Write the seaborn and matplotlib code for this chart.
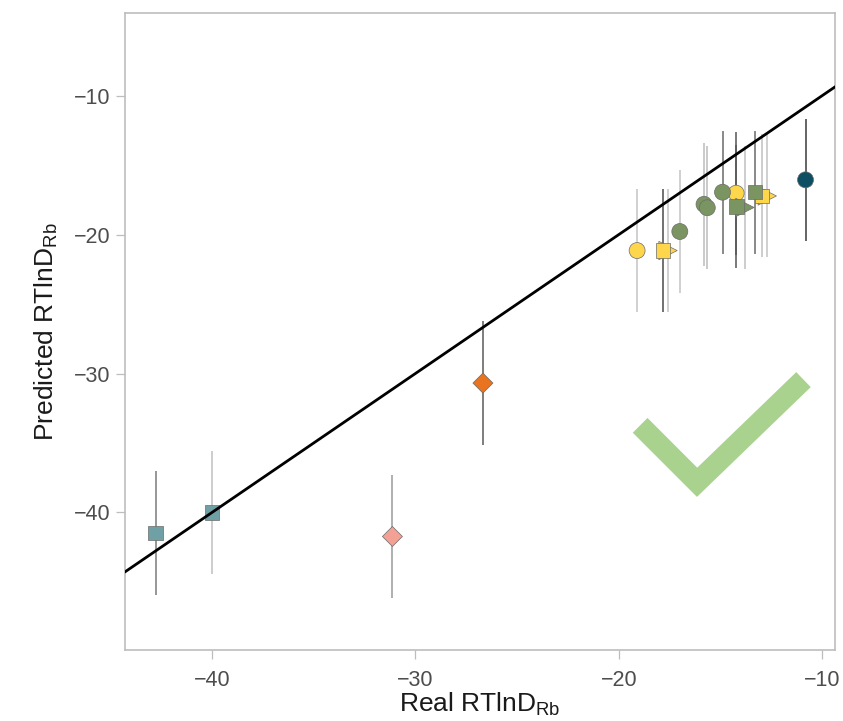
import numpy as np
import pandas as pd
import matplotlib
matplotlib.use("Agg")
import matplotlib.pyplot as plt
import seaborn as sns

# Measured vs. predicted RT ln D(Rb), with prediction intervals
real_rtlnd = [-17.58, -12.70, -17.82, -12.95, -19.10, -14.23,
              -13.80, -17.00, -15.81, -15.65, -14.90, -14.22, -13.31,
              -42.77, -40.00, -31.13, -26.68, -10.82]
pred_rtlnd = [-21.15, -17.22, -21.15, -17.22, -21.15, -17.02,
              -18.05, -19.78, -17.82, -18.07, -16.95, -17.99, -16.95,
              -41.46, -40.00, -41.73, -30.69, -16.06]
pred_err = [4.43, 4.43, 4.43, 4.43, 4.43, 4.43,
            4.43, 4.40, 4.43, 4.43, 4.43, 4.43, 4.43,
            4.45, 4.43, 4.45, 4.44, 4.38]
group = ["yellow", "yellow", "yellow", "yellow", "yellow", "yellow",
         "green", "green", "green", "green", "green", "green", "green",
         "teal", "teal", "salmon", "orange", "navy"]
shape = ["triangle", "triangle", "square", "square", "circle", "circle",
         "triangle", "circle", "circle", "circle", "circle", "square", "square",
         "square", "square", "diamond", "diamond", "circle"]
bar_tone = ["#c4c4c4", "#c4c4c4", "#4a4a4a", "#c0c0c0", "#c4c4c4", "#555555",
            "#c0c0c0", "#c4c4c4", "#bcbcbc", "#bcbcbc", "#6a6a6a", "#555555", "#6a6a6a",
            "#7a7a7a", "#c0c0c0", "#9a9a9a", "#5a5a5a", "#3a3a3a"]

# tick mark decoration
check_x = [-18.95, -16.15, -10.92]
check_y = [-33.73, -37.83, -30.44]

ticks = [-40, -30, -20, -10]

df = pd.DataFrame({"real": real_rtlnd, "pred": pred_rtlnd, "err": pred_err,
                   "group": group, "shape": shape, "tone": bar_tone})

palette = {"yellow": "#fdd64b", "green": "#7a9562", "teal": "#6fa0a5",
           "salmon": "#f3a194", "orange": "#e9731f", "navy": "#0e4e63"}
markers = {"circle": "o", "square": "s", "triangle": ">", "diamond": "D"}
sizes = {"circle": 132, "square": 108, "triangle": 175, "diamond": 104}

sns.set_theme(style="ticks")
plt.rcParams["font.family"] = ["Liberation Sans", "DejaVu Sans"]
plt.rcParams["mathtext.default"] = "regular"

fig = plt.figure(figsize=(8.43, 7.21), dpi=100)
ax = fig.add_axes([0.148, 0.0985, 0.843, 0.8835])

# prediction intervals
for _, r in df.iterrows():
    ax.vlines(r["real"], r["pred"] - r["err"], r["pred"] + r["err"],
              color=r["tone"], lw=1.1, zorder=1)

sns.scatterplot(data=df, x="real", y="pred", hue="group", style="shape",
                size="shape", palette=palette, markers=markers, sizes=sizes,
                edgecolor="#6b6b6b", linewidth=0.5, legend=False, ax=ax,
                zorder=2)

ax.set_xlim(-44.29, -9.35)
ax.set_ylim(-49.9, -4.05)

# identity line
ax.axline((-20, -20), slope=1, color="black", lw=2.0, zorder=3)

ax.plot(check_x, check_y, color="#a8d28e", lw=15, solid_capstyle="butt",
        solid_joinstyle="miter", zorder=4)

ax.set_xticks(ticks)
ax.set_yticks(ticks)
ax.set_xticklabels([f"\u2212{abs(t)}" for t in ticks])
ax.set_yticklabels([f"\u2212{abs(t)}" for t in ticks])

for side in ["top", "right", "left", "bottom"]:
    ax.spines[side].set_visible(True)
    ax.spines[side].set_color("#bdbdbd")
    ax.spines[side].set_linewidth(1.2)

ax.tick_params(axis="both", length=6.5, width=0.9, color="#bdbdbd",
               labelsize=15.5, labelcolor="#4d4d4d")
ax.tick_params(axis="x", pad=8)
ax.tick_params(axis="y", pad=4)

ax.set_xlabel("Real RTlnD$_{Rb}$", fontsize=19, color="#1a1a1a", labelpad=0)
ax.set_ylabel("Predicted RTlnD$_{Rb}$", fontsize=19, color="#1a1a1a", labelpad=10)

fig.savefig("out.png", dpi=100)
